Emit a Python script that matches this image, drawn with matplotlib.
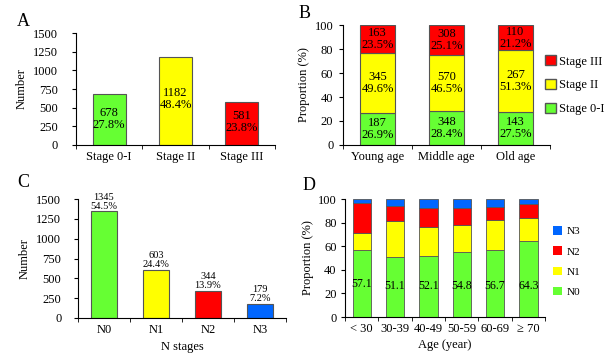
"""Four-panel stage distribution figure -> out.png"""
import matplotlib
matplotlib.use("Agg")
import matplotlib.pyplot as plt
import numpy as np
from matplotlib.patches import Patch

plt.rcParams["font.family"] = ["Liberation Serif", "DejaVu Serif"]
plt.rcParams["font.size"] = 9

GREEN, YELLOW, RED, BLUE = "#66ff33", "#ffff00", "#ff0000", "#0066ff"
EDGE = "#555555"

# panel A
stages = ["Stage 0-I", "Stage II", "Stage III"]
stage_n = [678, 1182, 581]
stage_pct = [27.8, 48.4, 23.8]

# panel B
age_groups = ["Young age", "Middle age", "Old age"]
b_n = {"Stage 0-I": [187, 348, 143], "Stage II": [345, 570, 267], "Stage III": [163, 308, 110]}
b_pct = {"Stage 0-I": [26.9, 28.4, 27.5], "Stage II": [49.6, 46.5, 51.3], "Stage III": [23.5, 25.1, 21.2]}

# panel C
n_stages = ["N0", "N1", "N2", "N3"]
n_count = [1345, 603, 344, 179]
n_pct = [54.5, 24.4, 13.9, 7.2]

# panel D
age_bins = ["< 30", "30-39", "40-49", "50-59", "60-69", "\u2265 70"]
d_n0 = [57.1, 51.1, 52.1, 54.8, 56.7, 64.3]
d_n1 = [14.4, 29.9, 23.9, 23.2, 25.3, 19.7]
d_n2 = [25.5, 13.0, 16.5, 14.0, 11.0, 12.0]
d_n3 = [3.0, 6.0, 7.5, 8.0, 7.0, 4.0]

W, H = 608, 356
fig = plt.figure(figsize=(W / 100, H / 100), dpi=100)


def px_axes(left, top, right, bottom):
    return fig.add_axes([left / W, 1 - bottom / H, (right - left) / W, (bottom - top) / H])


def style(ax, ncat, ypad=3):
    ax.spines["top"].set_visible(False)
    ax.spines["right"].set_visible(False)
    ax.set_xlim(-0.5, ncat - 0.5)
    ax.set_xticks(np.arange(ncat))
    ax.tick_params(axis="x", length=0, pad=4)
    ax.set_xticks(np.arange(ncat + 1) - 0.5, minor=True)
    ax.tick_params(axis="x", which="minor", length=3, direction="out")
    ax.tick_params(axis="y", length=3, direction="out", pad=ypad)


# A
axA = px_axes(76, 33, 275, 145)
axA.bar(range(3), stage_n, width=0.5, color=[GREEN, YELLOW, RED], edgecolor=EDGE, linewidth=0.8)
for i, (n, p) in enumerate(zip(stage_n, stage_pct)):
    axA.text(i, n * 0.52, f"{n}\n{p}%", ha="center", va="center", fontsize=9, linespacing=1.0)
axA.set_ylim(0, 1500)
axA.set_yticks(range(0, 1501, 250))
axA.set_xticklabels(stages)
style(axA, 3, ypad=10)
axA.set_ylabel("Number", labelpad=4)

# B
axB = px_axes(343, 25, 550, 145)
bottom = np.zeros(3)
for key, col in [("Stage 0-I", GREEN), ("Stage II", YELLOW), ("Stage III", RED)]:
    vals = np.array(b_pct[key])
    axB.bar(range(3), vals, bottom=bottom, width=0.5, color=col, edgecolor=EDGE, linewidth=0.8)
    for i in range(3):
        axB.text(i, bottom[i] + vals[i] / 2, f"{b_n[key][i]}\n{vals[i]}%", ha="center",
                 va="center", fontsize=9, linespacing=1.0)
    bottom += vals
axB.set_ylim(0, 100)
axB.set_yticks(range(0, 101, 20))
axB.set_xticklabels(age_groups)
style(axB, 3, ypad=4)
axB.set_ylabel("Proportion (%)", labelpad=3)
axB.legend(handles=[Patch(facecolor=RED, edgecolor=EDGE), Patch(facecolor=YELLOW, edgecolor=EDGE),
                    Patch(facecolor=GREEN, edgecolor=EDGE)],
           labels=["Stage III", "Stage II", "Stage 0-I"], loc="center left",
           bbox_to_anchor=(0.95, 0.5), frameon=False, fontsize=9, handlelength=0.9,
           handleheight=0.9, handletextpad=0.25, labelspacing=0.9, borderaxespad=0)

# C
axC = px_axes(78, 199, 286, 318)
axC.bar(range(4), n_count, width=0.5, color=[GREEN, YELLOW, RED, BLUE], edgecolor=EDGE, linewidth=0.8)
for i, (n, p) in enumerate(zip(n_count, n_pct)):
    axC.text(i, n + 10, f"{n}\n{p}%", ha="center", va="bottom", fontsize=7.5, linespacing=1.0)
axC.set_ylim(0, 1500)
axC.set_yticks(range(0, 1501, 250))
axC.set_xticklabels(n_stages)
style(axC, 4, ypad=9)
axC.set_ylabel("Number", labelpad=4)
axC.set_xlabel("N stages", labelpad=4)

# D
axD = px_axes(345, 199, 545, 317)
bottom = np.zeros(6)
for vals, col in [(d_n0, GREEN), (d_n1, YELLOW), (d_n2, RED), (d_n3, BLUE)]:
    vals = np.array(vals)
    axD.bar(range(6), vals, bottom=bottom, width=0.55, color=col, edgecolor=EDGE, linewidth=0.6)
    bottom += vals
for i, v in enumerate(d_n0):
    axD.text(i, 28 if i == 0 else 26, f"{v}", ha="center", va="center", fontsize=8.5)
axD.set_ylim(0, 100)
axD.set_yticks(range(0, 101, 20))
axD.set_xticklabels(age_bins)
style(axD, 6, ypad=3)
axD.set_ylabel("Proportion (%)", labelpad=3)
axD.set_xlabel("Age (year)", labelpad=3)
axD.legend(handles=[Patch(facecolor=BLUE), Patch(facecolor=RED), Patch(facecolor=YELLOW),
                    Patch(facecolor=GREEN)],
           labels=["N3", "N2", "N1", "N0"], loc="center left", bbox_to_anchor=(1.02, 0.47),
           frameon=False, fontsize=8, handlelength=0.8, handleheight=0.8, handletextpad=0.4,
           labelspacing=0.9, borderaxespad=0)

for lab, x, y in [("A", 17, 26), ("B", 299, 18), ("C", 17, 187), ("D", 303, 190)]:
    fig.text(x / W, 1 - y / H, lab, fontsize=13, va="baseline", ha="left")

fig.savefig("out.png", dpi=100)
